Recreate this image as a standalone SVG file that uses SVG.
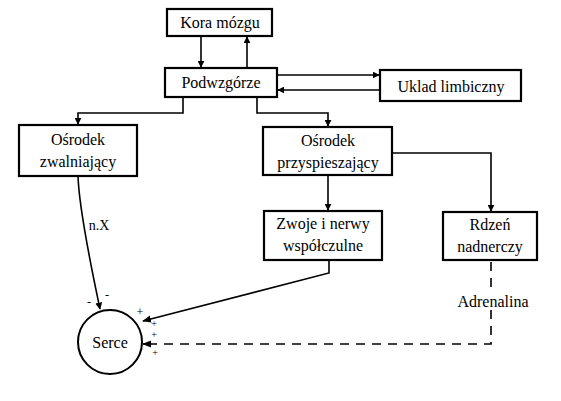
<svg xmlns="http://www.w3.org/2000/svg" width="561" height="401" viewBox="0 0 561 401">
<style>
.box{fill:#fff;stroke:#000;stroke-width:2.2}
text{font-family:'Liberation Serif','DejaVu Serif',serif;fill:#000;text-anchor:middle}
.t{font-size:16px}
.s{font-size:12px}
.c{fill:none;stroke:#000;stroke-width:1.6}
.d{fill:none;stroke:#000;stroke-width:1.6;stroke-dasharray:9,7}
</style>
<defs>
<marker id="a" viewBox="0 0 10 10" refX="9" refY="5" markerWidth="7" markerHeight="7" orient="auto" markerUnits="userSpaceOnUse">
<path d="M0,0 L10,5 L0,10 Z" fill="#000"/>
</marker>
<marker id="a2" viewBox="0 0 10 10" refX="9" refY="5" markerWidth="9" markerHeight="9" orient="auto" markerUnits="userSpaceOnUse">
<path d="M0,1 L10,5 L0,9 Z" fill="#000"/>
</marker>
</defs>
<rect width="561" height="401" fill="#fff"/>
<g id="connectors">
<path class="c" d="M201,36 V67" marker-end="url(#a)"/>
<path class="c" d="M247,68 V37" marker-end="url(#a)"/>
<path class="c" d="M277,75 H379" marker-end="url(#a)"/>
<path class="c" d="M380,90 H278" marker-end="url(#a)"/>
<path class="c" d="M183,97 V113 H78 V124" marker-end="url(#a)"/>
<path class="c" d="M257,97 V113 H328 V126" marker-end="url(#a)"/>
<path class="c" d="M328,175 V210" marker-end="url(#a)"/>
<path class="c" d="M392,153 H491 V211" marker-end="url(#a)"/>
<path class="c" d="M78,176 Q79,210 100,309" marker-end="url(#a)"/>
<path class="c" d="M329,260 V273 L143,321" marker-end="url(#a2)"/>
<path class="d" d="M491,262 V344 H152"/>
<path class="c" d="M152,344 H143" marker-end="url(#a2)"/>
<rect x="449" y="292" width="88" height="18" fill="#fff"/>
<text class="t" x="493" y="307">Adrenalina</text>
<text class="t" x="99" y="230" style="font-size:14px">n.X</text>
</g>
<g id="kora"><rect class="box" x="167" y="9" width="105" height="27"/><text class="t" x="220" y="28">Kora mózgu</text></g>
<g id="podwzgorze"><rect class="box" x="165" y="68" width="112" height="29"/><text class="t" x="221" y="88">Podwzgórze</text></g>
<g id="uklad"><rect class="box" x="380" y="70" width="141" height="31"/><text class="t" x="451" y="92">Uklad limbiczny</text></g>
<g id="zwalniajacy"><rect class="box" x="19" y="125" width="118" height="51"/><text class="t" x="78" y="145">Ośrodek</text><text class="t" x="78" y="167">zwalniający</text></g>
<g id="przyspieszajacy"><rect class="box" x="263" y="127" width="129" height="48"/><text class="t" x="328" y="146">Ośrodek</text><text class="t" x="328" y="168">przyspieszający</text></g>
<g id="zwoje"><rect class="box" x="264" y="211" width="118" height="49"/><text class="t" x="323" y="229">Zwoje i nerwy</text><text class="t" x="323" y="251">współczulne</text></g>
<g id="rdzen"><rect class="box" x="443" y="212" width="94" height="48"/><text class="t" x="490" y="230">Rdzeń</text><text class="t" x="490" y="252">nadnerczy</text></g>
<g id="serce"><circle cx="110" cy="342" r="32" fill="#fff" stroke="#000" stroke-width="2"/><text class="t" x="110" y="348">Serce</text></g>
<g id="signs">
<text class="s" x="89" y="306">-</text>
<text class="s" x="107" y="299">-</text>
<text class="s" x="140" y="316">+</text>
<text class="s" x="154" y="327" style="font-size:10px">+</text>
<text class="s" x="154" y="338" style="font-size:10px">+</text>
<text class="s" x="155" y="356" style="font-size:10px">+</text>
</g>
</svg>
